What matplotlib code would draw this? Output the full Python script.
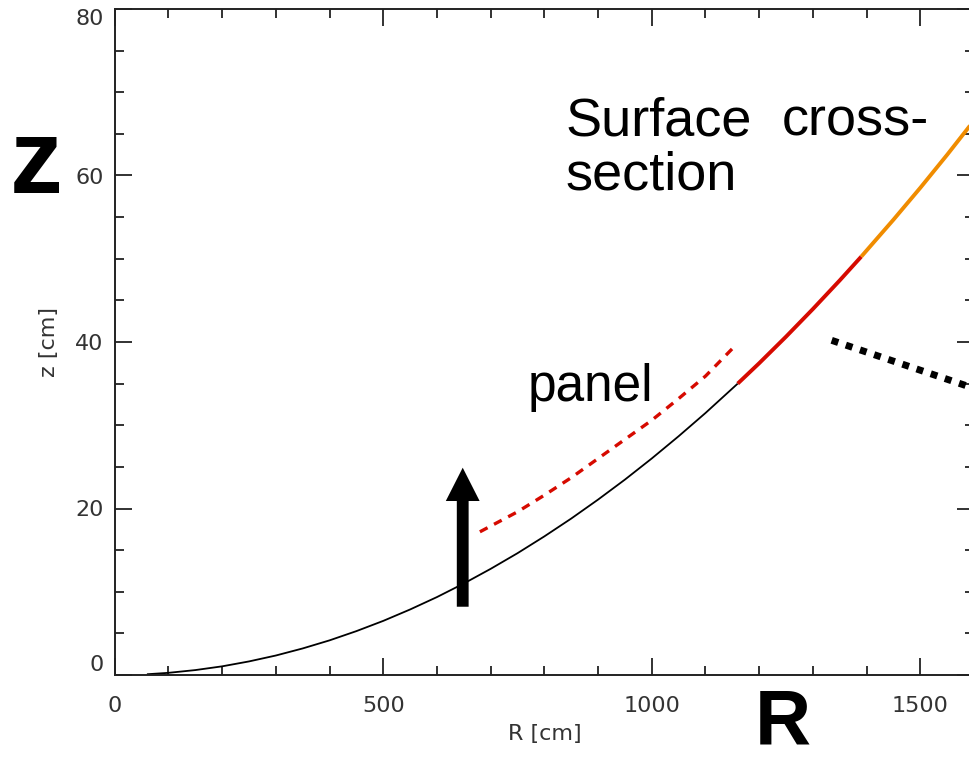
import matplotlib
matplotlib.use("Agg")
import matplotlib.pyplot as plt
from matplotlib.ticker import MultipleLocator

# ---- data ----
R_surface = [60, 100, 150, 200, 250, 300, 350, 400, 450, 500, 550, 600, 650, 700,
             750, 800, 850, 900, 950, 1000, 1050, 1100, 1160]
z_surface = [0.09, 0.26, 0.59, 1.04, 1.63, 2.34, 3.19, 4.16, 5.27, 6.50, 7.87, 9.36,
             10.99, 12.75, 14.63, 16.65, 18.79, 21.07, 23.47, 26.01, 28.68, 31.47, 35.0]
R_red = [1160, 1200, 1250, 1300, 1350, 1390]
z_red = [35.0, 37.45, 40.64, 43.96, 47.40, 50.25]
R_orange = [1390, 1450, 1500, 1550, 1600]
z_orange = [50.25, 54.69, 58.52, 62.49, 66.6]
R_panel = [680, 750, 800, 850, 900, 950, 1000, 1050, 1100, 1150]
z_panel = [17.2, 19.6, 21.6, 23.7, 26.0, 28.3, 30.6, 33.2, 35.9, 39.2]
R_dotted = [1335, 1620]
z_dotted = [40.2, 34.0]
arrow_R = 648
arrow_z = [8.2, 24.9]

x_ticks = [0, 500, 1000, 1500]
y_ticks = [0, 20, 40, 60, 80]

fig = plt.figure(figsize=(9.69, 7.59), dpi=100)
ax = fig.add_axes([114.7 / 969, 84 / 759, (974 - 114.7) / 969, (675 - 9) / 759])

ax.plot(R_surface, z_surface, color="black", lw=1.3, solid_capstyle="butt")
ax.plot(R_red, z_red, color="#d60a00", lw=2.8, solid_capstyle="butt")
ax.plot(R_orange, z_orange, color="#f08c00", lw=2.8, solid_capstyle="butt")
ax.plot(R_panel, z_panel, color="#d60a00", lw=2.4, dashes=(2.6, 2.2))
ax.plot(R_dotted, z_dotted, color="black", lw=5, dashes=(1, 1.15), dash_capstyle="butt")
ax.arrow(arrow_R, arrow_z[0], 0, arrow_z[1] - arrow_z[0], width=22, head_width=63,
         head_length=4.0, length_includes_head=True, color="black", lw=0)

ax.set_xlim(0, 1600)
ax.set_ylim(0, 80)
ax.set_xticks(x_ticks)
ax.set_yticks(y_ticks)
ax.xaxis.set_minor_locator(MultipleLocator(100))
ax.yaxis.set_minor_locator(MultipleLocator(5))
ax.tick_params(which="both", direction="in", top=True, right=True, color="#222222",
               width=1.3)
ax.tick_params(which="major", length=12.5, labelsize=16, labelcolor="#333333")
ax.tick_params(which="minor", length=6.5)
ax.tick_params(axis="x", which="major", pad=15)
ax.tick_params(axis="y", which="major", pad=8)
for s in ax.spines.values():
    s.set_linewidth(1.4)
    s.set_color("#222222")

fig.canvas.draw()
for lab in ax.get_yticklabels():
    t = lab.get_text()
    if t == "80":
        lab.set_va("top")
    elif t == "0":
        lab.set_va("bottom")

ax.set_xlabel("R [cm]", fontsize=16, color="#333333", labelpad=6)
ax.set_ylabel("z [cm]", fontsize=16, color="#333333", labelpad=12)

fam = ["Liberation Sans", "DejaVu Sans"]
fig.text(566 / 969, 1 - 135 / 759, "Surface", fontsize=39, family=fam, color="black")
fig.text(782 / 969, 1 - 135 / 759, "cross-", fontsize=39, family=fam, color="black")
fig.text(566 / 969, 1 - 189 / 759, "section", fontsize=39, family=fam, color="black")
fig.text(528 / 969, 1 - 401 / 759, "panel", fontsize=37, family=fam, color="black")
fig.text(10 / 969, 1 - 193 / 759, "z", fontsize=76, family=fam, weight="bold", color="black")
fig.text(755 / 969, 0, "R", fontsize=56, family=fam, weight="bold", color="black",
         va="bottom")

fig.savefig("out.png", dpi=100)
